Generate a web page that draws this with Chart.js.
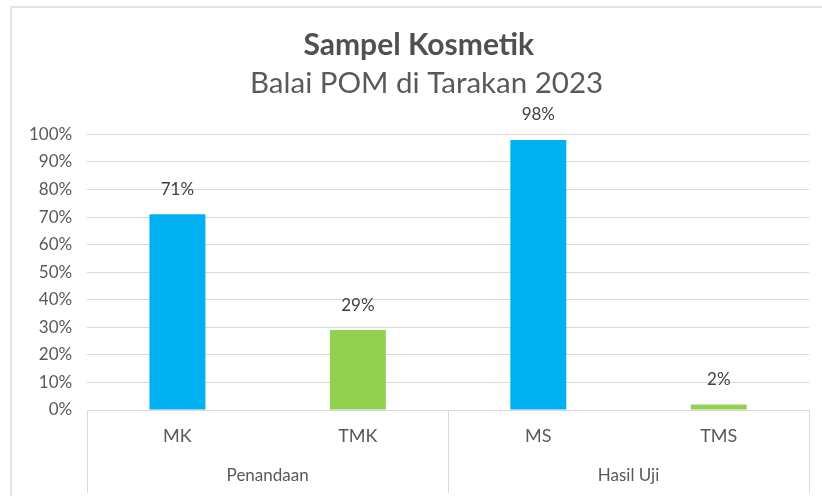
<!DOCTYPE html>
<html>
<head>
<meta charset="utf-8">
<script src="https://cdn.jsdelivr.net/npm/chart.js@4"></script>
<style>
  html, body { margin: 0; padding: 0; background: #ffffff; }
  #wrap { position: relative; width: 822px; height: 496px; overflow: hidden; }
  #frame { position: absolute; left: 10px; top: 6px; width: 830px; height: 500px;
           border-left: 2px solid #e3e3e3; border-top: 2px solid #e3e3e3; pointer-events: none; }
  canvas { position: absolute; left: 0; top: 0; }
</style>
</head>
<body>
<div id="wrap">
  <canvas id="c" width="822" height="496"></canvas>
  <div id="frame"></div>
</div>
<script>
// ---- data ----
const categories = ['MK', 'TMK', 'MS', 'TMS'];
const groups = ['Penandaan', 'Hasil Uji'];
const values = [71, 29, 98, 2];
const barColors = ['#00B0F0', '#92D050', '#00B0F0', '#92D050'];
const yTicks = [0, 10, 20, 30, 40, 50, 60, 70, 80, 90, 100];
const titleText = 'Sampel Kosmetik';
const subtitleText = 'Balai POM di Tarakan 2023';

const FONT = 'Lato';
const TEXT = '#595959';
const GRID = '#d9d9d9';

// value labels above bars, placed from the bar elements
const dataLabels = {
  id: 'dataLabels',
  afterDatasetsDraw(chart) {
    const ctx = chart.ctx;
    const meta = chart.getDatasetMeta(0);
    ctx.save();
    ctx.font = '17px ' + FONT;
    ctx.fillStyle = '#404040';
    ctx.textAlign = 'center';
    ctx.textBaseline = 'middle';
    meta.data.forEach((bar, i) => {
      ctx.fillText(values[i] + '%', bar.x, bar.y - 25);
    });
    ctx.restore();
  }
};

// group separators of the two-level category axis, from the scales
const groupSeparators = {
  id: 'groupSeparators',
  afterDraw(chart) {
    const x = chart.scales.x, x2 = chart.scales.x2;
    const ctx = chart.ctx;
    const mid = (x.getPixelForTick(1) + x.getPixelForTick(2)) / 2;
    const xs = [x.left, mid, x.right];
    ctx.save();
    ctx.strokeStyle = GRID;
    ctx.lineWidth = 1;
    ctx.beginPath();
    xs.forEach(px => {
      const p = Math.round(px) + 0.5;
      ctx.moveTo(p, chart.chartArea.bottom);
      ctx.lineTo(p, x2.bottom + 3);
    });
    ctx.stroke();
    ctx.restore();
  }
};

new Chart(document.getElementById('c'), {
  type: 'bar',
  data: {
    labels: categories,
    datasets: [{
      data: values,
      backgroundColor: barColors,
      borderWidth: 0,
      barPercentage: 0.31,
      categoryPercentage: 1
    }]
  },
  options: {
    responsive: false,
    animation: false,
    events: [],
    layout: { padding: { left: 14, right: 13, top: 0, bottom: 6 } },
    plugins: {
      legend: { display: false },
      tooltip: { enabled: false },
      title: {
        display: true, text: '\u0020\u0020' + titleText, color: '#505050',
        font: { family: FONT, size: 30, weight: 'bold', lineHeight: 1.2 },
        padding: { top: 27, bottom: 0 }
      },
      subtitle: {
        display: true, text: '\u0020\u0020\u0020\u0020' + subtitleText, color: TEXT,
        font: { family: FONT, size: 29.5, weight: 'normal', lineHeight: 1.2 },
        padding: { top: 3, bottom: 33 }
      }
    },
    scales: {
      y: {
        min: 0, max: 100,
        afterBuildTicks(scale) { scale.ticks = yTicks.map(v => ({ value: v })); },
        ticks: {
          color: TEXT, padding: 15,
          font: { family: FONT, size: 17 },
          callback: v => v + '%'
        },
        grid: { color: GRID, lineWidth: 1, drawTicks: false },
        border: { display: false }
      },
      x: {
        weight: 0,
        offset: true,
        ticks: { color: TEXT, padding: 15.2, font: { family: FONT, size: 18 } },
        grid: { offset: true, drawOnChartArea: false, drawTicks: false },
        border: { display: true, color: GRID, width: 1 }
      },
      x2: {
        type: 'category',
        position: 'bottom',
        weight: 1,
        labels: groups,
        offset: true,
        ticks: { color: TEXT, padding: 3.8, font: { family: FONT, size: 17 } },
        grid: { offset: true, drawOnChartArea: false, drawTicks: false },
        border: { display: false }
      }
    }
  },
  plugins: [dataLabels, groupSeparators]
});
</script>
</body>
</html>
